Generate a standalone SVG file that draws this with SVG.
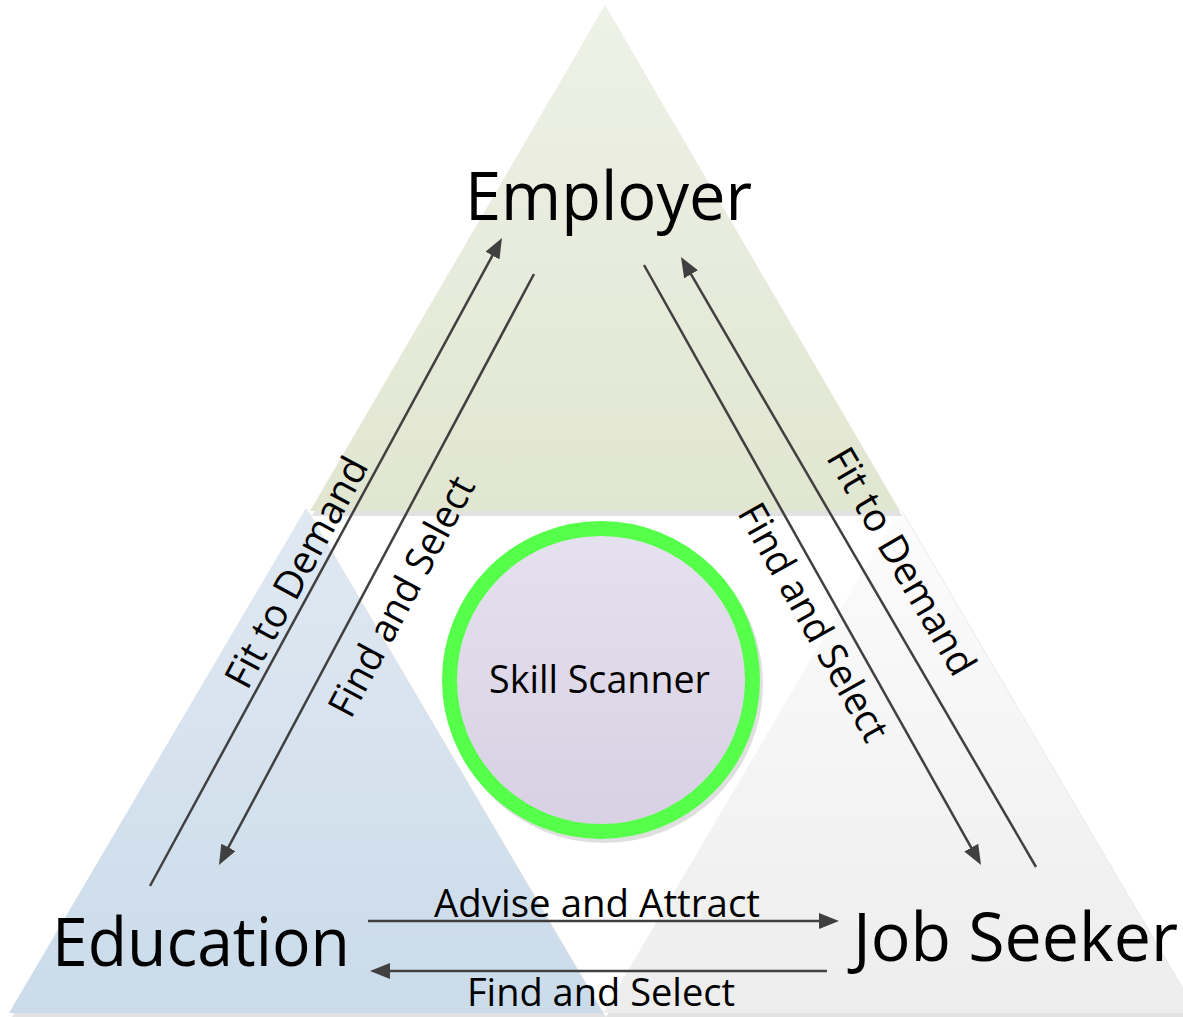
<svg xmlns="http://www.w3.org/2000/svg" width="1183" height="1017" viewBox="0 0 1183 1017">
  <defs>
    <linearGradient id="gGreen" x1="0" y1="0" x2="0" y2="1">
      <stop offset="0" stop-color="#eef1e7"/>
      <stop offset="1" stop-color="#e1e6d1"/>
    </linearGradient>
    <linearGradient id="gBlue" x1="0" y1="0" x2="0" y2="1">
      <stop offset="0" stop-color="#e0e9f2"/>
      <stop offset="1" stop-color="#cbdbea"/>
    </linearGradient>
    <linearGradient id="gGray" x1="0" y1="0" x2="0" y2="1">
      <stop offset="0" stop-color="#fcfcfc"/>
      <stop offset="1" stop-color="#ededed"/>
    </linearGradient>
    <linearGradient id="gLav" x1="0" y1="0" x2="0" y2="1">
      <stop offset="0" stop-color="#e5e1ee"/>
      <stop offset="1" stop-color="#d8d0e3"/>
    </linearGradient>
    <marker id="arrow" viewBox="0 0 20 16" refX="14" refY="8" markerWidth="20" markerHeight="16" markerUnits="userSpaceOnUse" orient="auto">
      <path d="M0,0 L20,8 L0,16 z" fill="#404040"/>
    </marker>
    <style>
      .big { font-family: "Open Sans", "Noto Sans", sans-serif; font-size: 67px; fill: #000; }
      .lbl { font-family: "Open Sans", "Noto Sans", sans-serif; font-size: 39px; fill: #000; }
      .conn { stroke: #404040; stroke-width: 2.5; fill: none; }
      .shadow { fill: #d6d6d6; opacity: 0.7; }
    </style>
  </defs>

  <rect width="1183" height="1017" fill="#ffffff"/>

  <g id="job-seeker">
    <polygon class="shadow" points="903,512 606,1017 1200,1017"/>
    <polygon points="900,508 603,1013 1197,1013" fill="url(#gGray)"/>
    <text class="big" x="853" y="961" textLength="325" lengthAdjust="spacingAndGlyphs">Job Seeker</text>
  </g>

  <g id="education">
    <polygon class="shadow" points="309,512 12,1017 606,1017"/>
    <polygon points="306,508 9,1013 603,1013" fill="url(#gBlue)"/>
    <text class="big" x="52" y="966" textLength="298" lengthAdjust="spacingAndGlyphs">Education</text>
  </g>

  <g id="employer">
    <polygon class="shadow" points="606,8 312,516 902,516"/>
    <polygon points="605,5 310,511 900,511" fill="url(#gGreen)"/>
    <text class="big" x="465" y="220" textLength="287" lengthAdjust="spacingAndGlyphs">Employer</text>
  </g>

  <g id="skill-scanner">
    <circle cx="604" cy="684" r="159" fill="#d2d2d2" opacity="0.7"/>
    <circle cx="601" cy="680" r="151.5" fill="url(#gLav)" stroke="#55ff4a" stroke-width="15"/>
    <text class="lbl" x="489" y="693" font-size="37" textLength="221" lengthAdjust="spacingAndGlyphs">Skill Scanner</text>
  </g>

  <g id="connectors">
    <line class="conn" x1="150" y1="886" x2="499.1" y2="243.3" marker-end="url(#arrow)"/>
    <line class="conn" x1="534" y1="274" x2="221.8" y2="859.7" marker-end="url(#arrow)"/>
    <line class="conn" x1="644" y1="265" x2="978.1" y2="859.8" marker-end="url(#arrow)"/>
    <line class="conn" x1="1036" y1="867" x2="684" y2="262.2" marker-end="url(#arrow)"/>
    <line class="conn" x1="368" y1="921" x2="833" y2="921" marker-end="url(#arrow)"/>
    <line class="conn" x1="827" y1="971" x2="376" y2="971" marker-end="url(#arrow)"/>

    <text class="lbl" transform="translate(296,572) rotate(-61.5)" x="0" y="14" text-anchor="middle" textLength="256" lengthAdjust="spacingAndGlyphs">Fit to Demand</text>
    <text class="lbl" transform="translate(401,596) rotate(-61.9)" x="0" y="14" text-anchor="middle" textLength="266" lengthAdjust="spacingAndGlyphs">Find and Select</text>
    <text class="lbl" transform="translate(814,622) rotate(60.7)" x="0" y="14" text-anchor="middle" textLength="266" lengthAdjust="spacingAndGlyphs">Find and Select</text>
    <text class="lbl" transform="translate(902,561) rotate(59.8)" x="0" y="14" text-anchor="middle" textLength="256" lengthAdjust="spacingAndGlyphs">Fit to Demand</text>
    <text class="lbl" x="434" y="917" textLength="326" lengthAdjust="spacingAndGlyphs">Advise and Attract</text>
    <text class="lbl" x="467" y="1006" textLength="268" lengthAdjust="spacingAndGlyphs">Find and Select</text>
  </g>
</svg>
